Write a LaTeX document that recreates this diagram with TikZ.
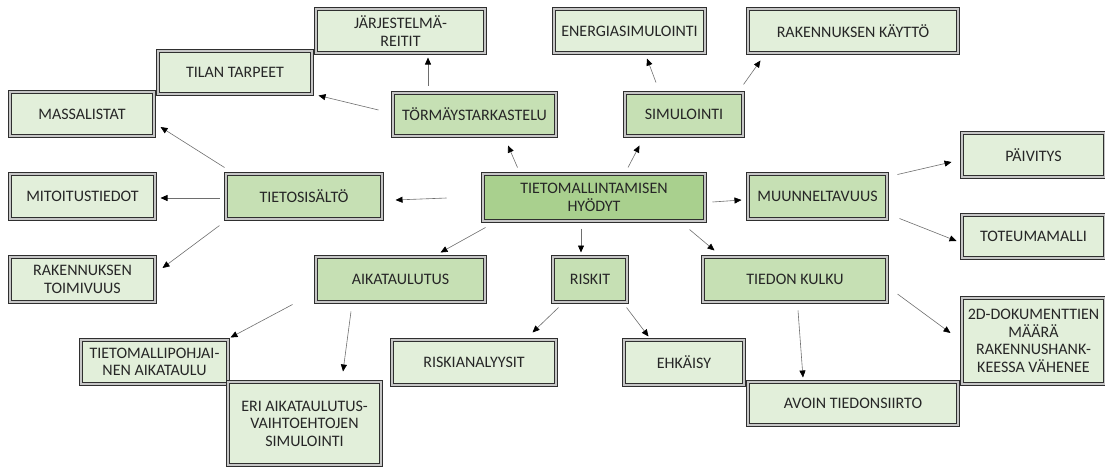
\documentclass[tikz,border=0pt]{standalone}
\usepackage{fontspec}
\setmainfont{Carlito}
\usepackage{tikz}
\usetikzlibrary{arrows.meta,positioning,calc}
\definecolor{Core}{HTML}{A9D08E}
\definecolor{Branch}{HTML}{C6E0B4}
\definecolor{Leaf}{HTML}{E2EFDA}
\definecolor{Edge}{HTML}{2F2F2F}
\definecolor{Muted}{HTML}{6E6E6E}

\begin{document}
\begin{tikzpicture}[x=1pt,y=-1pt,
    n/.style={draw=Edge,line width=1pt,double=gray!45,double distance=1.1pt,inner sep=1pt,
      align=center,text=black!85,font=\fontsize{16}{17.5}\selectfont},
    a/.style={-{Triangle[length=7pt,width=6pt,color=black]},line width=0.6pt,draw=Muted}]
    \useasboundingbox (0,0) rectangle (1105,466);
    % hub and its branches
    \node[n,fill=Core,minimum width=222,minimum height=47] (hyo) at (594,197.5) {TIETOMALLINTAMISEN\\HYÖDYT};
    \node[n,fill=Branch,minimum width=163,minimum height=43] (tor) at (474.5,114.5) {TÖRMÄYSTARKASTELU};
    \node[n,fill=Branch,minimum width=118,minimum height=43] (sim) at (684,114.5) {SIMULOINTI};
    \node[n,fill=Branch,minimum width=156,minimum height=45] (tie) at (304,196.5) {TIETOSISÄLTÖ};
    \node[n,fill=Branch,minimum width=139,minimum height=45] (muu) at (817.5,196.5) {MUUNNELTAVUUS};
    \node[n,fill=Branch,minimum width=169,minimum height=45] (aik) at (400.5,279.5) {AIKATAULUTUS};
    \node[n,fill=Branch,minimum width=74,minimum height=45] (ris) at (590,279.5) {RISKIT};
    \node[n,fill=Branch,minimum width=184,minimum height=45] (tku) at (795,279.5) {TIEDON KULKU};
    % leaves
    \node[n,fill=Leaf,minimum width=169,minimum height=44] (jar) at (400.5,31) {JÄRJESTELMÄ-\\REITIT};
    \node[n,fill=Leaf,minimum width=154,minimum height=43] (til) at (235,72.5) {TILAN TARPEET};
    \node[n,fill=Leaf,minimum width=144,minimum height=44] (mas) at (82,114) {MASSALISTAT};
    \node[n,fill=Leaf,minimum width=151,minimum height=44] (ene) at (629.5,31) {ENERGIASIMULOINTI};
    \node[n,fill=Leaf,minimum width=210,minimum height=44] (kay) at (853,31) {RAKENNUKSEN KÄYTTÖ};
    \node[n,fill=Leaf,minimum width=145,minimum height=45] (mit) at (82.5,196.5) {MITOITUSTIEDOT};
    \node[n,fill=Leaf,minimum width=145,minimum height=45] (rto) at (82.5,279.5) {RAKENNUKSEN\\TOIMIVUUS};
    \node[n,fill=Leaf,minimum width=143,minimum height=44] (pai) at (1033.5,155) {PÄIVITYS};
    \node[n,fill=Leaf,minimum width=143,minimum height=43] (tot) at (1033.5,236.5) {TOTEUMAMALLI};
    \node[n,fill=Leaf,minimum width=147,minimum height=44] (tpa) at (154.5,362) {TIETOMALLIPOHJAI-\\NEN AIKATAULU};
    \node[n,fill=Leaf,minimum width=153,minimum height=83] (eri) at (304.5,423.5) {ERI AIKATAULUTUS-\\VAIHTOEHTOJEN\\SIMULOINTI};
    \node[n,fill=Leaf,minimum width=164,minimum height=45] (rian) at (474,362.5) {RISKIANALYYSIT};
    \node[n,fill=Leaf,minimum width=120,minimum height=45] (ehk) at (684,362.5) {EHKÄISY};
    \node[n,fill=Leaf,minimum width=210,minimum height=43] (avo) at (853,403.5) {AVOIN TIEDONSIIRTO};
    \node[n,fill=Leaf,minimum width=143,minimum height=86] (dok) at (1033.5,341) {2D-DOKUMENTTIEN\\MÄÄRÄ\\RAKENNUSHANK-\\KEESSA VÄHENEE};
    % hub arrows
    \draw[a] ([shift={(35,-6)}]hyo.north west) -- ([shift={(33.5,9)}]tor.south);
    \draw[a] ([shift={(34,-6)}]hyo.north) -- ([shift={(15,9)}]sim.south west);
    \draw[a] ([shift={(-36,0.5)}]hyo.west) -- ([shift={(13,3.5)}]tie.east);
    \draw[a] ([shift={(7,4.5)}]hyo.east) -- ([shift={(-6,3.5)}]muu.west);
    \draw[a] ([shift={(3,6)}]hyo.south west) -- ([shift={(-45,-4)}]aik.north east);
    \draw[a] ([shift={(-13,7)}]hyo.south) -- ([shift={(-9,-4)}]ris.north);
    \draw[a] ([shift={(-16,8)}]hyo.south east) -- ([shift={(12,-6)}]tku.north west);
    % branch arrows
    \draw[a] ([shift={(-46.5,-7)}]tor.north) -- ([shift={(27.5,4)}]jar.south);
    \draw[a] ([shift={(-14,-4.5)}]tor.west) -- ([shift={(6,1)}]til.south east);
    \draw[a] ([shift={(-28,-10)}]sim.north) -- ([shift={(17.5,5)}]ene.south);
    \draw[a] ([shift={(0,-8)}]sim.north east) -- ([shift={(13,7)}]kay.south west);
    \draw[a] ([shift={(-1,-6)}]tie.north west) -- ([shift={(6,13)}]mas.east);
    \draw[a] ([shift={(-6,1.5)}]tie.west) -- ([shift={(5,1.5)}]mit.east);
    \draw[a] ([shift={(-6,6)}]tie.south west) -- ([shift={(7,-11.5)}]rto.east);
    \draw[a] ([shift={(10,1)}]muu.north east) -- ([shift={(-10,7)}]pai.west);
    \draw[a] ([shift={(12,-1)}]muu.south east) -- ([shift={(-5,4.5)}]tot.west);
    \draw[a] ([shift={(-23,2)}]aik.south west) -- ([shift={(2,-2)}]tpa.north east);
    \draw[a] ([shift={(-49.5,9)}]aik.south) -- ([shift={(38.5,-10)}]eri.north);
    \draw[a] ([shift={(6,5)}]ris.south west) -- ([shift={(-24,-7)}]rian.north east);
    \draw[a] ([shift={(-1,5)}]ris.south east) -- ([shift={(25,-3)}]ehk.north west);
    \draw[a] ([shift={(3,8)}]tku.south) -- ([shift={(-50,-4)}]avo.north);
    \draw[a] ([shift={(10,14.5)}]tku.east) -- ([shift={(-11,-8)}]dok.west);
  \end{tikzpicture}
\end{document}
